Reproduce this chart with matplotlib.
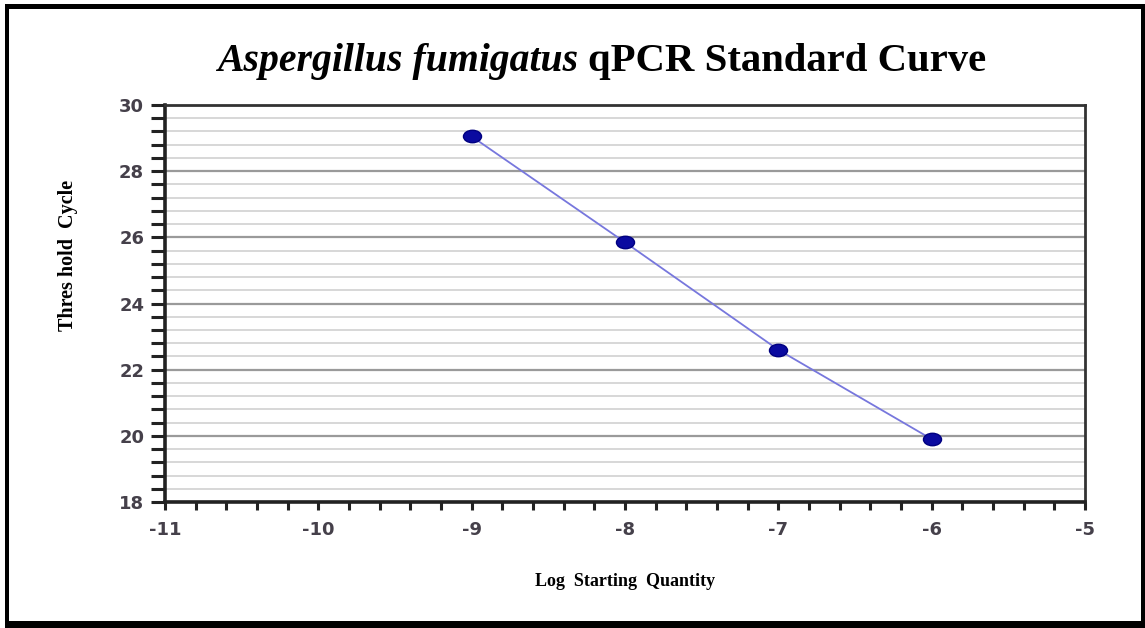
"""qPCR standard curve for Aspergillus fumigatus: threshold cycle vs log starting quantity."""

import matplotlib
matplotlib.use("Agg")
import matplotlib.pyplot as plt
from matplotlib.patches import Rectangle
from matplotlib.path import Path
from matplotlib.transforms import Affine2D
from matplotlib.ticker import MultipleLocator

log_qty = [-9, -8, -7, -6]
ct = [29.05, 25.85, 22.6, 19.9]

x_ticks = [-11, -10, -9, -8, -7, -6, -5]
y_ticks = [18, 20, 22, 24, 26, 28, 30]

SERIF = "Liberation Serif"
W, H = 1145, 628

plt.rcParams["axes.unicode_minus"] = False

fig = plt.figure(figsize=(W / 100, H / 100), dpi=100)
ax = fig.add_axes([165 / W, 1 - 502 / H, 920 / W, 397 / H])

# outer black frame (pixel bands: left, top, right, bottom)
for x0, y0, x1, y1 in [(5, 4, 9, 628), (5, 4, 1145, 9), (1141, 4, 1145, 628), (5, 621, 1145, 628)]:
    fig.patches.append(Rectangle((x0 / W, 1 - y1 / H), (x1 - x0) / W, (y1 - y0) / H,
                                 transform=fig.transFigure, facecolor="black",
                                 edgecolor="none"))

# oval marker, a little wider than tall
oval = Path.unit_circle().transformed(Affine2D().scale(1.45, 1.0))

ax.plot(log_qty, ct, color="#7777dd", linewidth=1.3, zorder=3)
ax.plot(log_qty, ct, linestyle="none", marker=oval, markersize=13,
        color="#0a0aa0", markeredgecolor="#000080", zorder=4)

ax.set_xlim(-11, -5)
ax.set_ylim(18, 30)
ax.set_xticks(x_ticks)
ax.set_yticks(y_ticks)
ax.xaxis.set_minor_locator(MultipleLocator(0.2))
ax.yaxis.set_minor_locator(MultipleLocator(0.4))

ax.grid(True, axis="y", which="major", color="#9a9a9a", linewidth=1.6, zorder=1)
ax.grid(True, axis="y", which="minor", color="#d4d4d4", linewidth=1.3, zorder=1)
ax.set_axisbelow(True)

ax.tick_params(axis="both", which="both", direction="out", color="#222222", width=2.2)
ax.tick_params(axis="x", which="both", length=6, pad=8)
ax.tick_params(axis="y", which="both", length=10, pad=5)
ax.tick_params(axis="both", which="major", labelsize=13, labelcolor="#45404a")
for lab in ax.get_xticklabels() + ax.get_yticklabels():
    lab.set_fontweight("bold")

for side in ["left", "bottom"]:
    ax.spines[side].set_linewidth(2.6)
    ax.spines[side].set_color("#222222")
for side in ["top", "right"]:
    ax.spines[side].set_linewidth(2.0)
    ax.spines[side].set_color("#333333")

ax.set_xlabel("Log  Starting  Quantity", fontfamily=SERIF, fontweight="bold",
              fontsize=13, labelpad=24)
ax.set_ylabel("Thres hold  Cycle", fontfamily=SERIF, fontweight="bold",
              fontsize=14.5, labelpad=30)
ax.yaxis.set_label_coords(-0.095, 0.622)

fig.text(578 / W, 0.902, "Aspergillus fumigatus", ha="right", va="center",
         fontsize=28.6, fontfamily=SERIF, fontweight="bold", fontstyle="italic")
fig.text(588 / W, 0.902, "qPCR Standard Curve", ha="left", va="center",
         fontsize=29.3, fontfamily=SERIF, fontweight="bold")

fig.savefig("out.png", dpi=100)
